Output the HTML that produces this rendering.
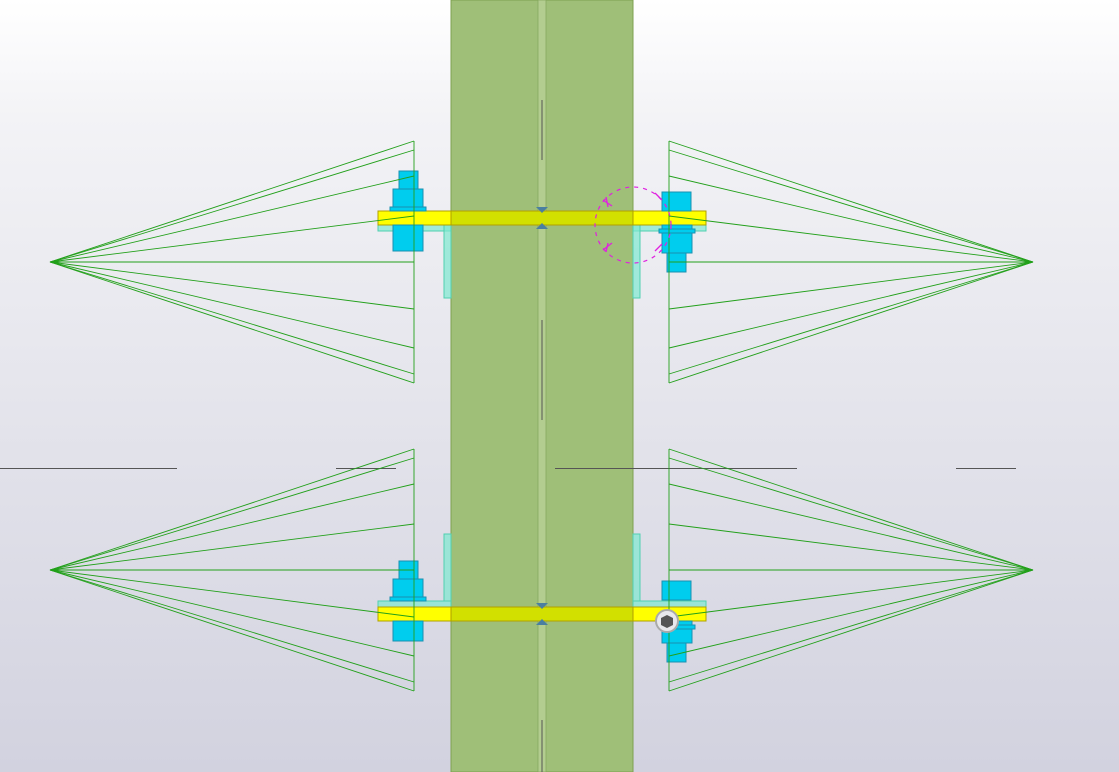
<!DOCTYPE html>
<html><head><meta charset="utf-8"><style>
html,body{margin:0;padding:0;width:1119px;height:772px;overflow:hidden}
svg{display:block}
</style></head><body>
<svg id="s" width="1119" height="772" viewBox="0 0 1119 772" xmlns="http://www.w3.org/2000/svg">
<defs>
<linearGradient id="bg" x1="0" y1="0" x2="0" y2="1">
<stop offset="0" stop-color="#ffffff"/>
<stop offset="0.15" stop-color="#f3f3f6"/>
<stop offset="1" stop-color="#d2d2df"/>
</linearGradient>
</defs>
<rect width="1119" height="772" fill="url(#bg)"/>
<rect x="451" y="0" width="182" height="772" fill="#9fbf78" stroke="#7da050"/>
<rect x="538" y="0" width="8" height="772" fill="#b3cd90" stroke="#86a860" stroke-width="0.8"/>
<line x1="542" y1="100" x2="542" y2="160" stroke="#555"/>
<line x1="542" y1="320" x2="542" y2="420" stroke="#555"/>
<line x1="542" y1="720" x2="542" y2="772" stroke="#555"/>
<g stroke="#555" stroke-width="1">
<line x1="0" y1="468.5" x2="177" y2="468.5"/>
<line x1="336" y1="468.5" x2="396" y2="468.5"/>
<line x1="555" y1="468.5" x2="797" y2="468.5"/>
<line x1="956" y1="468.5" x2="1016" y2="468.5"/>
</g>
<g id="parts"></g>
<g id="cones" stroke="#22a01a" stroke-width="0.9" fill="none"></g>
<circle cx="633" cy="225" r="38" fill="none" stroke="#e020e0" stroke-dasharray="4,5" stroke-width="1.2"/>
<g stroke="#e020e0" stroke-width="1.3">
<line x1="603" y1="200" x2="612" y2="206"/><line x1="606" y1="197" x2="608" y2="207"/>
<line x1="603" y1="250" x2="612" y2="243"/><line x1="606" y1="252" x2="608" y2="243"/>
<line x1="655" y1="193" x2="662" y2="200"/>
<line x1="655" y1="251" x2="662" y2="244"/>
</g>
<circle cx="667" cy="621" r="11" fill="#e8e8ec" stroke="#aaa" stroke-width="2"/>
<polygon points="667,615 673,618 673,625 667,628 661,625 661,618" fill="#555"/>
</svg>
<script>
const NS="http://www.w3.org/2000/svg";
const cg=document.getElementById('cones');
const offs=[-121,-112,-86,-46,0,47,86,112,121];
function cone(ax,ay,bx){
  offs.forEach(o=>{const l=document.createElementNS(NS,'line');
  l.setAttribute('x1',ax);l.setAttribute('y1',ay);l.setAttribute('x2',bx);l.setAttribute('y2',ay+o);cg.appendChild(l);});
  const l=document.createElementNS(NS,'line');
  l.setAttribute('x1',bx);l.setAttribute('y1',ay-121);l.setAttribute('x2',bx);l.setAttribute('y2',ay+121);cg.appendChild(l);
}
cone(50,262,414);cone(1033,262,669);cone(50,570,414);cone(1033,570,669);
const pg=document.getElementById('parts');
function r(x,y,w,h,f,s,op){const e=document.createElementNS(NS,'rect');
e.setAttribute('x',x);e.setAttribute('y',y);e.setAttribute('width',w);e.setAttribute('height',h);
e.setAttribute('fill',f);e.setAttribute('stroke',s||'none');if(op)e.setAttribute('fill-opacity',op);pg.appendChild(e);}
const cy='#00cdee',cs='#1a90b0',ang='#7fe8d0',yel='#ffff00',ys='#b0a000',yc='#d2e000';
function conn(py,up){
  if(up){
    r(378,py-6,73,6,ang,'#50d0b0',0.7);r(444,py-73,7,67,ang,'#50d0b0',0.7);
    r(633,py-6,73,6,ang,'#50d0b0',0.7);r(633,py-73,7,67,ang,'#50d0b0',0.7);
  }else{
    r(378,py+14,73,6,ang,'#50d0b0',0.7);r(444,py+14,7,73,ang,'#50d0b0',0.7);
    r(633,py+14,73,6,ang,'#50d0b0',0.7);r(633,py+14,7,73,ang,'#50d0b0',0.7);
  }
  r(378,py,73,14,yel,ys);r(633,py,73,14,yel,ys);r(451,py,182,14,yc,ys);
  const d=up?6:0;
  r(399,py-40-d,19,18,cy,cs);r(393,py-22-d,30,18,cy,cs);r(390,py-4-d,36,4,cy,cs);r(393,py+14,30,20+(up?0:6),cy,cs);
  const nh=up?22:28, sh=19;
  r(662,py-19-(up?7:0),29,19,cy,cs);r(662,py+14,30,nh,cy,cs);r(659,py+18,36,4,cy,cs);r(667,py+14+nh,19,sh,cy,cs);
  const p=document.createElementNS(NS,'polygon');
  p.setAttribute('points',`536,${py-4} 548,${py-4} 542,${py+2}`);p.setAttribute('fill','#4a7fa0');pg.appendChild(p);
  const p2=document.createElementNS(NS,'polygon');
  p2.setAttribute('points',`536,${py+18} 548,${py+18} 542,${py+12}`);p2.setAttribute('fill','#4a7fa0');pg.appendChild(p2);
}
conn(211,false);conn(607,true);
</script>
</body></html>
